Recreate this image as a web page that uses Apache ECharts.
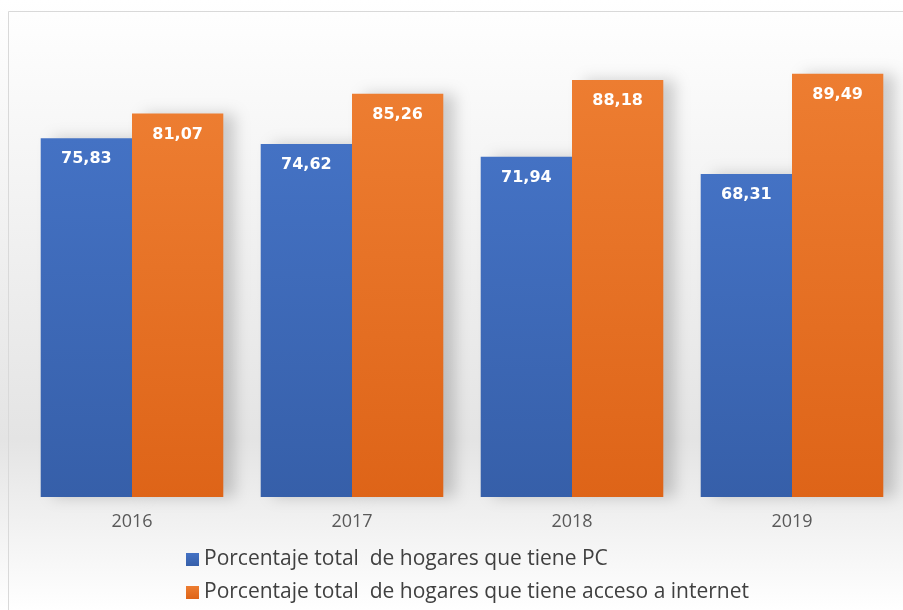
<!DOCTYPE html>
<html>
<head>
<meta charset="utf-8">
<script src="https://cdn.jsdelivr.net/npm/echarts@6/dist/echarts.min.js"></script>
<style>
  html, body { margin: 0; padding: 0; background: #fff; }
  #chart { width: 903px; height: 610px; }
</style>
</head>
<body>
<div id="chart"></div>
<script>
var years = ['2016', '2017', '2018', '2019'];
var pcValues = [75.83, 74.62, 71.94, 68.31];
var internetValues = [81.07, 85.26, 88.18, 89.49];
var seriesNames = [
  'Porcentaje total  de hogares que tiene PC',
  'Porcentaje total  de hogares que tiene acceso a internet'
];

var chart = echarts.init(document.getElementById('chart'));

// degradado vertical para cada barra
function barGradient(top, bottom) {
  return new echarts.graphic.LinearGradient(0, 0, 0, 1, [
    { offset: 0, color: top },
    { offset: 1, color: bottom }
  ]);
}

function fmt(p) {
  return p.value.toFixed(2).replace('.', ',');
}

var labelStyle = {
  show: true,
  position: 'insideTop',
  distance: 13,
  color: '#ffffff',
  fontFamily: 'DejaVu Sans',
  fontWeight: 'bold',
  fontSize: 16,
  formatter: fmt
};

var option = {
  backgroundColor: new echarts.graphic.LinearGradient(0, 0, 0, 1, [
    { offset: 0, color: '#ffffff' },
    { offset: 0.72, color: '#e4e4e4' },
    { offset: 1, color: '#ffffff' }
  ]),
  graphic: [
    { type: 'line', shape: { x1: 8.5, y1: 11.5, x2: 903, y2: 11.5 }, style: { stroke: '#d9d9d9', lineWidth: 1 } },
    { type: 'line', shape: { x1: 8.5, y1: 11.5, x2: 8.5, y2: 610 }, style: { stroke: '#d9d9d9', lineWidth: 1 } }
  ],
  legend: {
    orient: 'vertical',
    left: 181,
    top: 544,
    itemWidth: 13,
    itemHeight: 13,
    itemGap: 12,
    icon: 'rect',
    textStyle: { color: '#404040', fontSize: 21, fontFamily: 'Open Sans' },
    data: seriesNames
  },
  grid: { left: 22, right: 1, top: 24, bottom: 113 },
  xAxis: {
    type: 'category',
    data: years,
    axisLine: { show: false },
    axisTick: { show: false },
    axisLabel: { color: '#595959', fontSize: 18, margin: 16, fontFamily: 'Open Sans' }
  },
  yAxis: {
    type: 'value',
    min: 0,
    max: 100,
    show: false,
    splitLine: { show: false }
  },
  series: [
    {
      name: seriesNames[0],
      type: 'bar',
      data: pcValues,
      barGap: '0%',
      barCategoryGap: '17%',
      itemStyle: {
        color: barGradient('#4472c4', '#365fa9'),
        shadowColor: 'rgba(0,0,0,0.18)',
        shadowBlur: 14,
        shadowOffsetX: 12,
        shadowOffsetY: 0
      },
      label: labelStyle
    },
    {
      name: seriesNames[1],
      type: 'bar',
      data: internetValues,
      itemStyle: {
        color: barGradient('#ed7d31', '#de6418'),
        shadowColor: 'rgba(0,0,0,0.18)',
        shadowBlur: 14,
        shadowOffsetX: 12,
        shadowOffsetY: 0
      },
      label: labelStyle
    }
  ]
};

chart.setOption(option);
</script>
</body>
</html>
